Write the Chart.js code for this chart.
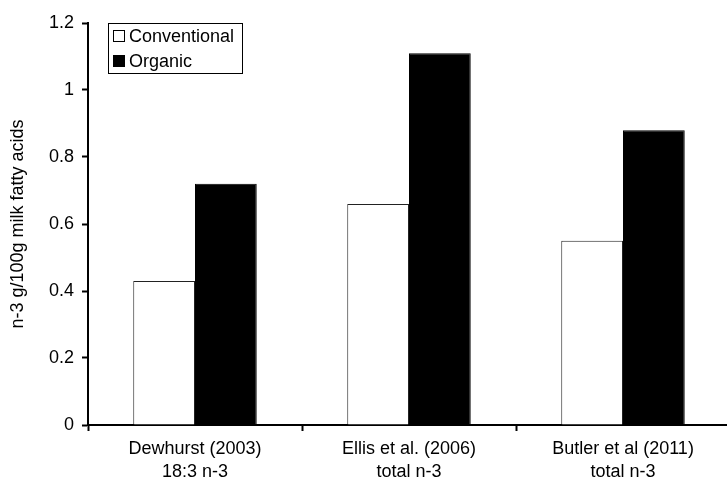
<!DOCTYPE html>
<html>
<head>
<meta charset="utf-8">
<script src="https://cdn.jsdelivr.net/npm/chart.js@4"></script>
<style>
  html, body { margin: 0; padding: 0; background: #fff; overflow: hidden; }
  #wrap { width: 733px; height: 482px; }
</style>
</head>
<body>
<div id="wrap"><canvas id="n3Chart"></canvas></div>
<script>
const studies = [["Dewhurst (2003)", "18:3 n-3"], ["Ellis et al. (2006)", "total n-3"], ["Butler et al (2011)", "total n-3"]];
const conventional = [0.43, 0.66, 0.55];
const organic = [0.72, 1.11, 0.88];
const yTicks = [0, 0.2, 0.4, 0.6, 0.8, 1, 1.2];

const FONT = "'Liberation Sans', Arial, sans-serif";

// legend drawn inside the plot, top-left
const boxLegend = {
  id: "boxLegend",
  afterDraw(chart) {
    const c = chart.ctx;
    const x = 108, y = 23, w = 134, h = 50;
    c.save();
    c.fillStyle = "#fff";
    c.fillRect(x, y, w, h);
    c.strokeStyle = "#000";
    c.lineWidth = 1;
    c.strokeRect(x + 0.5, y + 0.5, w, h);
    c.font = "18px " + FONT;
    c.textBaseline = "middle";
    chart.data.datasets.forEach((ds, i) => {
      const cy = y + 13 + i * 25;
      c.fillStyle = ds.backgroundColor;
      c.fillRect(113.5, cy - 5.5, 11, 11);
      c.strokeStyle = "#000";
      c.strokeRect(113.5, cy - 5.5, 11, 11);
      c.fillStyle = "#000";
      c.fillText(ds.label, 129, cy + 1);
    });
    c.restore();
  }
};

new Chart(document.getElementById("n3Chart"), {
  type: "bar",
  data: {
    labels: studies,
    datasets: [
      { label: "Conventional", data: conventional, backgroundColor: "#ffffff", borderColor: "#222", borderWidth: 1 },
      { label: "Organic", data: organic, backgroundColor: "#000000", borderColor: "#000", borderWidth: 1 }
    ]
  },
  options: {
    responsive: true,
    maintainAspectRatio: false,
    animation: false,
    layout: { padding: { left: 0, right: 3, top: 23, bottom: 0 } },
    datasets: { bar: { categoryPercentage: 0.577, barPercentage: 1 } },
    plugins: { legend: { display: false }, tooltip: { enabled: false } },
    scales: {
      x: {
        offset: true,
        grid: { display: true, drawOnChartArea: false, offset: true, tickLength: 6, tickWidth: 2, tickColor: "#000" },
        border: { display: true, color: "#000", width: 2 },
        ticks: { color: "#000", font: { family: FONT, size: 18, lineHeight: 1.25 }, padding: 7, maxRotation: 0 },
        afterFit: axis => { axis.height = 57; }
      },
      y: {
        min: 0,
        max: 1.2,
        afterBuildTicks: axis => { axis.ticks = yTicks.map(v => ({ value: v })); },
        grid: { display: true, drawOnChartArea: false, tickLength: 6, tickWidth: 2, tickColor: "#000" },
        border: { display: true, color: "#000", width: 2 },
        ticks: { color: "#000", font: { family: FONT, size: 18 }, padding: 8, callback: v => String(Math.round(v * 10) / 10) },
        title: { display: true, text: "n-3 g/100g milk fatty acids", color: "#000", font: { family: FONT, size: 18 }, padding: { top: 7, bottom: 0 } },
        afterFit: axis => { axis.width = 88; }
      }
    }
  },
  plugins: [boxLegend]
});
</script>
</body>
</html>
